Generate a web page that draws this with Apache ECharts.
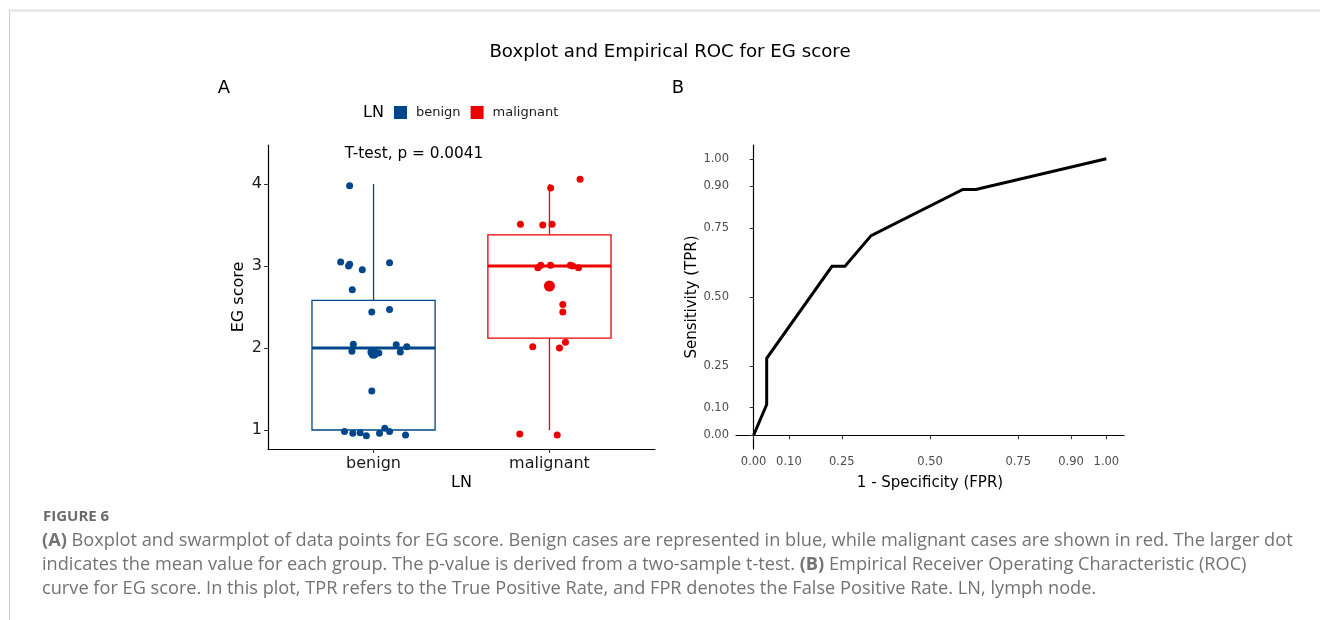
<!DOCTYPE html>
<html>
<head>
<meta charset="utf-8">
<script src="https://cdn.jsdelivr.net/npm/echarts@6/dist/echarts.min.js"></script>
<style>
  html, body { margin: 0; padding: 0; background: #fff; }
  #chart { width: 1320px; height: 620px; }
</style>
</head>
<body>
<div id="chart"></div>
<script>
const chart = echarts.init(document.getElementById('chart'));

// groups on the LN axis
const categories = ['benign', 'malignant'];
const groupColors = ['#00468B', '#ED0000'];

// box stats per group: [position, min, q1, median, q3, max]
const boxStats = [
  [1, 1.0, 1.0, 2.0, 2.58, 4.0],
  [2, 1.0, 2.12, 3.0, 3.38, 4.0]
];

// jittered points [x, EG score]
const benignPoints = [
  [0.864, 3.98], [0.813, 3.05], [0.864, 3.02], [0.858, 3.00], [0.936, 2.955],
  [1.091, 3.04], [0.879, 2.71], [0.990, 2.44], [1.091, 2.47], [0.885, 2.045],
  [0.877, 1.96], [0.985, 1.95], [1.005, 1.93], [0.995, 1.94], [1.030, 1.94],
  [1.129, 2.04], [1.152, 1.95], [1.189, 2.015], [0.990, 1.475], [0.835, 0.98],
  [0.882, 0.96], [0.924, 0.965], [0.959, 0.93], [1.034, 0.96], [1.064, 1.02],
  [1.091, 0.98], [1.182, 0.94]
];
const malignantPoints = [
  [2.174, 4.057], [2.007, 3.95], [1.835, 3.51], [1.962, 3.50], [2.015, 3.51],
  [1.951, 3.01], [1.934, 2.98], [2.006, 3.01], [2.119, 3.01], [2.132, 3.00],
  [2.165, 2.98], [2.076, 2.53], [2.076, 2.44], [1.905, 2.016], [2.057, 2.00],
  [2.091, 2.07], [1.831, 0.95], [2.044, 0.94]
];
const groupMeans = [[1, 1.935], [2, 2.756]];
const boxTicks = [1, 2, 3, 4];

// empirical ROC curve [FPR, TPR]
const rocFpr = [0, 0.037, 0.037, 0.222, 0.259, 0.333, 0.593, 0.630, 1.0];
const rocTpr = [0, 0.111, 0.278, 0.611, 0.611, 0.722, 0.889, 0.889, 1.0];
const rocTicks = [0, 0.1, 0.25, 0.5, 0.75, 0.9, 1.0];

const FONT = 'DejaVu Sans';
const CAPTION_FONT = 'Open Sans';

function renderBox(params, api) {
  const idx = params.dataIndex;
  const color = groupColors[idx];
  const x = api.value(0);
  const half = api.size([0.7, 0])[0] / 2;
  const pMin = api.coord([x, api.value(1)]);
  const pQ1 = api.coord([x, api.value(2)]);
  const pMed = api.coord([x, api.value(3)]);
  const pQ3 = api.coord([x, api.value(4)]);
  const pMax = api.coord([x, api.value(5)]);
  const lineStyle = { stroke: color, lineWidth: 1.3, fill: null };
  return {
    type: 'group',
    children: [
      { type: 'line', shape: { x1: pMax[0], y1: pMax[1], x2: pQ3[0], y2: pQ3[1] }, style: lineStyle },
      { type: 'line', shape: { x1: pMin[0], y1: pMin[1], x2: pQ1[0], y2: pQ1[1] }, style: lineStyle },
      { type: 'rect', shape: { x: pQ3[0] - half, y: pQ3[1], width: half * 2, height: pQ1[1] - pQ3[1] },
        style: { stroke: color, lineWidth: 1.3, fill: '#fff' } },
      { type: 'line', shape: { x1: pMed[0] - half, y1: pMed[1], x2: pMed[0] + half, y2: pMed[1] },
        style: { stroke: color, lineWidth: 2.8 } }
    ]
  };
}

const option = {
  backgroundColor: '#fff',
  animation: false,
  textStyle: { fontFamily: FONT },
  legend: {
    data: categories,
    left: 394,
    top: 106,
    padding: 0,
    itemWidth: 13,
    itemHeight: 13,
    itemGap: 10,
    icon: 'rect',
    textStyle: { fontFamily: FONT, fontSize: 13, color: '#1a1a1a', padding: [0, 0, 0, 4] },
    selectedMode: false
  },
  grid: [
    { left: 268, top: 145, width: 387, height: 304 },
    { left: 736, top: 145, width: 388, height: 304 }
  ],
  xAxis: [
    {
      gridIndex: 0, type: 'value', min: 0.4, max: 2.6,
      name: 'LN', nameLocation: 'middle', nameGap: 26,
      nameTextStyle: { fontFamily: FONT, fontSize: 16, color: '#000' },
      axisLine: { lineStyle: { color: '#000', width: 1.2 } },
      axisTick: { show: true, length: 4, customValues: [1, 2], lineStyle: { color: '#333' } },
      axisLabel: { customValues: [1, 2], formatter: v => categories[Math.round(v) - 1],
        fontFamily: FONT, fontSize: 16, color: '#1a1a1a', margin: 7 },
      splitLine: { show: false }
    },
    {
      gridIndex: 1, type: 'value', min: -0.05, max: 1.05,
      name: '1 - Specificity (FPR)', nameLocation: 'middle', nameGap: 27,
      nameTextStyle: { fontFamily: FONT, fontSize: 15, color: '#000' },
      axisLine: { lineStyle: { color: '#000', width: 1.2 } },
      axisTick: { show: true, length: 4, customValues: rocTicks, lineStyle: { color: '#333' } },
      axisLabel: { customValues: rocTicks, formatter: v => v.toFixed(2),
        fontFamily: FONT, fontSize: 11.5, color: '#4d4d4d', margin: 7 },
      splitLine: { show: false }
    }
  ],
  yAxis: [
    {
      gridIndex: 0, type: 'value', min: 0.768, max: 4.476,
      name: 'EG score', nameLocation: 'middle', nameGap: 21, nameRotate: 90,
      nameTextStyle: { fontFamily: FONT, fontSize: 16, color: '#000' },
      axisLine: { show: true, lineStyle: { color: '#000', width: 1.2 } },
      axisTick: { show: true, length: 4, customValues: boxTicks, lineStyle: { color: '#333' } },
      axisLabel: { customValues: boxTicks, fontFamily: FONT, fontSize: 16, color: '#1a1a1a', margin: 6 },
      splitLine: { show: false }
    },
    {
      gridIndex: 1, type: 'value', min: -0.05, max: 1.05,
      name: 'Sensitivity (TPR)', nameLocation: 'middle', nameGap: 36, nameRotate: 90,
      nameTextStyle: { fontFamily: FONT, fontSize: 15, color: '#000' },
      axisLine: { show: true, lineStyle: { color: '#000', width: 1.2 } },
      axisTick: { show: true, length: 4, customValues: rocTicks, lineStyle: { color: '#333' } },
      axisLabel: { customValues: rocTicks, formatter: v => v.toFixed(2),
        fontFamily: FONT, fontSize: 11.5, color: '#4d4d4d', margin: 7 },
      splitLine: { show: false }
    }
  ],
  series: [
    {
      type: 'custom', name: 'box', xAxisIndex: 0, yAxisIndex: 0,
      renderItem: renderBox,
      encode: { x: 0, y: [1, 2, 3, 4, 5] },
      data: boxStats, z: 1
    },
    {
      type: 'scatter', name: 'benign', xAxisIndex: 0, yAxisIndex: 0,
      data: benignPoints, symbolSize: 7,
      itemStyle: { color: groupColors[0], opacity: 1 }, z: 3
    },
    {
      type: 'scatter', name: 'malignant', xAxisIndex: 0, yAxisIndex: 0,
      data: malignantPoints, symbolSize: 7,
      itemStyle: { color: groupColors[1], opacity: 1 }, z: 3
    },
    {
      type: 'scatter', name: 'mean', xAxisIndex: 0, yAxisIndex: 0,
      data: groupMeans, symbolSize: 11,
      itemStyle: { color: p => groupColors[p.dataIndex], opacity: 1 }, z: 4
    },
    {
      type: 'line', name: 'ROC', xAxisIndex: 1, yAxisIndex: 1,
      data: rocFpr.map((f, i) => [f, rocTpr[i]]),
      showSymbol: false, symbol: 'none',
      lineStyle: { color: '#000', width: 3, cap: 'butt', join: 'miter' }
    }
  ],
  graphic: [
    { type: 'line', shape: { x1: 9, y1: 10.5, x2: 1320, y2: 10.5 }, style: { stroke: '#e2e2e2', lineWidth: 2 } },
    { type: 'line', shape: { x1: 9.5, y1: 10, x2: 9.5, y2: 620 }, style: { stroke: '#cfcfcf', lineWidth: 1 } },
    { type: 'text', x: 670, y: 52, style: { text: 'Boxplot and Empirical ROC for EG score',
      font: '18.2px "DejaVu Sans"', fill: '#000', textAlign: 'center', textVerticalAlign: 'middle' } },
    { type: 'text', x: 224, y: 88, style: { text: 'A', font: '18px "DejaVu Sans"', fill: '#000',
      textAlign: 'center', textVerticalAlign: 'middle' } },
    { type: 'text', x: 678, y: 88, style: { text: 'B', font: '18px "DejaVu Sans"', fill: '#000',
      textAlign: 'center', textVerticalAlign: 'middle' } },
    { type: 'text', x: 363, y: 113, style: { text: 'LN', font: '16px "DejaVu Sans"', fill: '#000',
      textAlign: 'left', textVerticalAlign: 'middle' } },
    { type: 'text', x: 414, y: 154, style: { text: 'T-test, p = 0.0041', font: '15.3px "DejaVu Sans"', fill: '#000',
      textAlign: 'center', textVerticalAlign: 'middle' } },
    { type: 'text', x: 43, y: 517, style: { text: 'FIGURE 6', font: 'bold 15px "Open Sans"', fill: '#6b6b6b',
      textAlign: 'left', textVerticalAlign: 'middle' } },
    { type: 'text', x: 42, y: 541, style: {
      text: '{b|(A)} Boxplot and swarmplot of data points for EG score. Benign cases are represented in blue, while malignant cases are shown in red. The larger dot',
      font: '18.2px "Open Sans"', fill: '#737373', textAlign: 'left', textVerticalAlign: 'middle',
      rich: { b: { fontWeight: 'bold', fontFamily: CAPTION_FONT, fontSize: 18.2, fill: '#737373' } } } },
    { type: 'text', x: 42, y: 565, style: {
      text: 'indicates the mean value for each group. The p-value is derived from a two-sample t-test. {b|(B)} Empirical Receiver Operating Characteristic (ROC)',
      font: '18.2px "Open Sans"', fill: '#737373', textAlign: 'left', textVerticalAlign: 'middle',
      rich: { b: { fontWeight: 'bold', fontFamily: CAPTION_FONT, fontSize: 18.2, fill: '#737373' } } } },
    { type: 'text', x: 42, y: 589, style: {
      text: 'curve for EG score. In this plot, TPR refers to the True Positive Rate, and FPR denotes the False Positive Rate. LN, lymph node.',
      font: '18.2px "Open Sans"', fill: '#737373', textAlign: 'left', textVerticalAlign: 'middle' } }
  ]
};

chart.setOption(option);

window.addEventListener('resize', () => {
  chart.resize();
});
</script>
</body>
</html>
